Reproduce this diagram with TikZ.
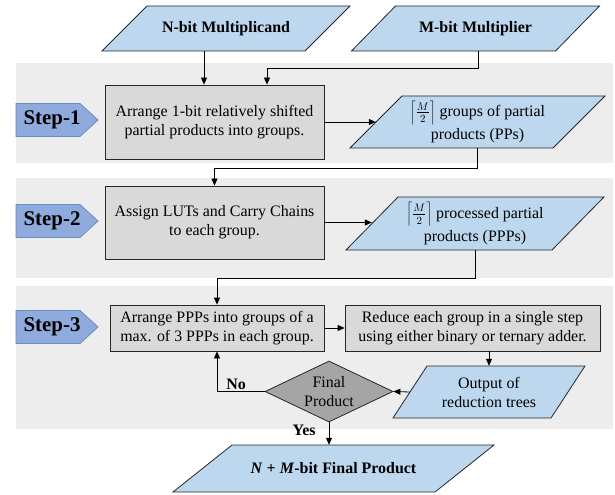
\documentclass[tikz,border=0pt]{standalone}
\usepackage{fontspec}
\setmainfont{Liberation Serif}
\usetikzlibrary{arrows.meta,shapes.geometric,calc}
\definecolor{bandgray}{HTML}{EDEDED}
\definecolor{boxgray}{HTML}{D9D9D9}
\definecolor{parablue}{HTML}{BDD7EE}
\definecolor{stepblue}{HTML}{8FAADC}
\definecolor{stepedge}{HTML}{6C8EBF}
\definecolor{diagray}{HTML}{A5A5A5}
\tikzset{
  band/.style={fill=bandgray, draw=none},
  procbox/.style={draw=black!85, fill=boxgray, line width=0.8bp, align=center, inner sep=0pt, font=\fontsize{16}{19}\selectfont},
  parashape/.style={draw=black!85, fill=parablue, line width=0.8bp},
  paratext/.style={inner sep=0pt, align=center, font=\fontsize{16}{19}\selectfont},
  headtext/.style={inner sep=0pt, align=center, font=\fontsize{16}{19}\selectfont\bfseries},
  stepshape/.style={draw=stepedge, fill=stepblue, line width=0.8bp},
  steptext/.style={inner sep=0pt, font=\fontsize{21}{24}\selectfont\bfseries},
  decision/.style={diamond, draw=black!85, fill=diagray, line width=0.8bp, inner sep=0pt, aspect=2, minimum width=128bp, minimum height=61bp, align=center, font=\fontsize{16}{19}\selectfont},
  arr/.style={draw=black, line width=0.8bp, -{Triangle[length=7bp,width=6bp]}},
  lbl/.style={inner sep=1bp, font=\fontsize{16}{19}\selectfont\bfseries}
}
% name, cx, cy, w, h, slant, style, text
\newcommand\mkpara[8]{%
  \path[parashape] (#2-#4/2-#6/2,#3+#5/2) -- (#2+#4/2-#6/2,#3+#5/2) -- (#2+#4/2+#6/2,#3-#5/2) -- (#2-#4/2+#6/2,#3-#5/2) -- cycle;
  \node[#7, minimum width=#4bp, minimum height=#5bp] (#1) at (#2,#3) {#8};}
% name, cy, text
\newcommand\mkstep[3]{%
  \path[stepshape] (16,#2-16.5) -- (80,#2-16.5) -- (98,#2) -- (80,#2+16.5) -- (16,#2+16.5) -- cycle;
  \node[steptext] (#1) at (52,#2) {#3};}
\begin{document}
\begin{tikzpicture}[x=1bp,y=-1bp]
\useasboundingbox (0,0) rectangle (615,495);
% bands
\path[band] (16,63) rectangle (613,163);
\path[band] (16,178) rectangle (613,278);
\path[band] (16,286) rectangle (613,429);
% inputs
\mkpara{nbit}{226}{28.5}{203}{45}{45}{headtext}{N-bit Multiplicand}
\mkpara{mbit}{475.5}{28.5}{204}{45}{44}{headtext}{M-bit Multiplier}
% step labels
\mkstep{s1}{120}{Step-1}
\mkstep{s2}{221}{Step-2}
\mkstep{s3}{327}{Step-3}
% step 1
\node[procbox, minimum width=219bp, minimum height=74bp] (box1) at (214.5,122) {Arrange 1-bit relatively shifted\\partial products into groups.};
\mkpara{pp1}{477.5}{122}{203}{52}{52}{paratext}{$\left\lceil\frac{M}{2}\right\rceil$ groups of partial\\[4bp]products (PPs)}
% step 2
\node[procbox, minimum width=219bp, minimum height=73bp] (box2) at (214.5,222.5) {Assign LUTs and Carry Chains\\to each group.};
\mkpara{pp2}{475}{223.5}{206}{53}{52}{paratext}{$\left\lceil\frac{M}{2}\right\rceil$ processed partial\\[4bp]products (PPPs)}
% step 3
\node[procbox, minimum width=214bp, minimum height=46bp] (boxA) at (217,328) {Arrange PPPs into groups of a\\max. of 3 PPPs in each group.};
\node[procbox, minimum width=255bp, minimum height=46bp] (boxB) at (472.5,328) {Reduce each group in a single step\\using either binary or ternary adder.};
\mkpara{outp}{489}{392}{158}{52}{34}{paratext}{Output of\\reduction trees}
\node[decision] (dia) at (329,391.5) {Final\\Product};
\mkpara{final}{333.5}{468.5}{262}{47}{59}{headtext}{\textit{N} + \textit{M}-bit Final Product}
% connectors
\draw[arr] ([xshift=-22bp]nbit.south) -- ([xshift=-22bp]nbit.south |- box1.north);
\draw[arr] ([xshift=2.5bp]mbit.south) -- ++(0,17) -| ([xshift=52.5bp]box1.north);
\draw[arr] (box1.east) -- (pp1.west);
\draw[arr] (pp1.south) -- ++(0,20) -| (box2.north);
\draw[arr] (box2.east) -- (box2.east -| pp2.west);
\draw[arr] (pp2.south) -- ++(0,28) -| (boxA.north);
\draw[arr] (boxA.east) -- (boxB.west);
\draw[arr] (outp.north |- boxB.south) -- (outp.north);
\draw[arr] (outp.west) -- (dia.east);
\draw[arr] (dia.west) -| node[lbl, pos=0.3, above] {No} (boxA.south);
\draw[arr] (dia.south) -- node[lbl, pos=0.35, left=12bp] {Yes} (dia.south |- final.north);
\end{tikzpicture}
\end{document}
